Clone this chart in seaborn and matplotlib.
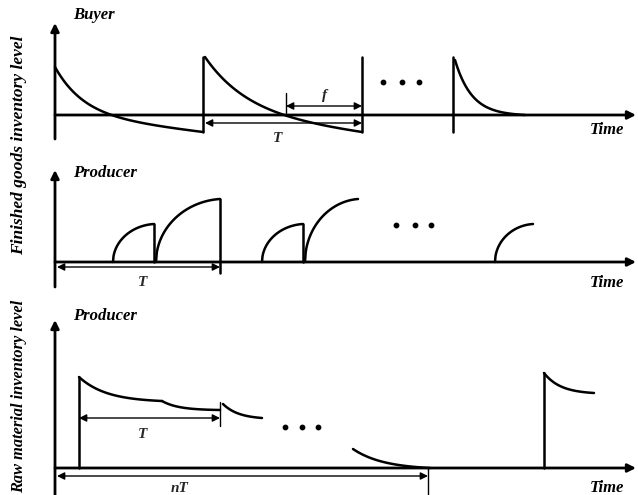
import numpy as np
import pandas as pd
import matplotlib
matplotlib.use("Agg")
import matplotlib.pyplot as plt
import seaborn as sns

sns.set_theme(style="white")
plt.rcParams['font.family'] = ['Liberation Serif', 'DejaVu Serif']

# ---------------- schematic key values (canvas units) ----------------
# Buyer panel
buyer_base = 115
buyer_x0 = [55, 205, 455]          # replenishment instants
buyer_x1 = [203, 362, 525]         # end of each cycle curve
buyer_peak = [67, 57, 60]          # level right after replenishment
buyer_low = [132, 132, 115]        # level at end (backorder)
buyer_repl_x = [203, 362, 453]     # vertical replenishment lines
buyer_repl_top = 57
buyer_repl_bottom = 132

# Producer finished goods panel
prod_base = 262
prod_x0 = [113, 156, 262, 305, 495]
prod_x1 = [154, 220, 303, 358, 533]
prod_top = [224, 199, 224, 199, 224]
prod_drop_x = [154, 220, 303]
prod_drop_top = [224, 199, 224]
prod_drop_bottom = [262, 273, 262]

# Raw material panel
raw_base = 468
raw_x0 = [79, 162, 223, 353, 544]
raw_y0 = [377, 401, 404, 449, 373]
raw_x1 = [162, 220, 262, 430, 594]
raw_y1 = [401, 410, 418, 468, 393]
raw_repl_x = [79, 544]
raw_repl_top = [377, 373]

def decay(x0, x1, y0, y1, k):
    t = np.linspace(0, 1, 80)
    f = (np.exp(-k * t) - np.exp(-k)) / (1 - np.exp(-k))
    return x0 + (x1 - x0) * t, y1 + (y0 - y1) * f

rows = []
seg = 0
# buyer curves: exponential decay + linear backorder
for x0, x1, pk, lo, kk in zip(buyer_x0, buyer_x1, buyer_peak, buyer_low, [0.035, 0.023, 0.06]):
    t = np.linspace(0, x1 - x0, 120)
    b = (lo - buyer_base + (buyer_base - pk) * np.exp(-kk * (x1 - x0))) / (x1 - x0)
    y = buyer_base - (buyer_base - pk) * np.exp(-kk * t) + b * t
    for xx, yy in zip(x0 + t, y):
        rows.append((seg, xx, yy))
    seg += 1
# producer arcs
for x0, x1, tp in zip(prod_x0, prod_x1, prod_top):
    s = np.linspace(0, 0.93, 80)
    g = np.sqrt(1 - (1 - s) ** 2)
    g = g / g[-1]
    for xx, yy in zip(x0 + (x1 - x0) * s / 0.93, prod_base - (prod_base - tp) * g):
        rows.append((seg, xx, yy))
    seg += 1
# raw material curves
for x0, y0, x1, y1, kk in zip(raw_x0, raw_y0, raw_x1, raw_y1, [3.0, 3.5, 2.5, 2.5, 3.0]):
    xs, ys = decay(x0, x1, y0, y1, kk)
    for xx, yy in zip(xs, ys):
        rows.append((seg, xx, yy))
    seg += 1
curves = pd.DataFrame(rows, columns=["seg", "x", "y"])

# vertical lines
vrows = []
vseg = 0
for x in buyer_repl_x:
    vrows += [(vseg, x, buyer_repl_top), (vseg, x, buyer_repl_bottom)]; vseg += 1
for x, tp, bt in zip(prod_drop_x, prod_drop_top, prod_drop_bottom):
    vrows += [(vseg, x, tp), (vseg, x, bt)]; vseg += 1
for x, tp in zip(raw_repl_x, raw_repl_top):
    vrows += [(vseg, x, tp), (vseg, x, raw_base)]; vseg += 1
verts = pd.DataFrame(vrows, columns=["seg", "x", "y"])

thin = pd.DataFrame([(0, 286, 93), (0, 286, 113), (1, 220, 402), (1, 220, 426),
                     (2, 428, 468), (2, 428, 495)], columns=["seg", "x", "y"])

fig = plt.figure(figsize=(6.38, 4.95), dpi=100)
ax = fig.add_axes([0, 0, 1, 1])
ax.set_xlim(0, 638)
ax.set_ylim(495, 0)
ax.axis("off")

sns.lineplot(data=curves, x="x", y="y", units="seg", estimator=None, sort=False,
             color="black", lw=1.8, ax=ax, legend=False)
sns.lineplot(data=verts, x="x", y="y", units="seg", estimator=None, sort=False,
             color="black", lw=1.8, ax=ax, legend=False)
sns.lineplot(data=thin, x="x", y="y", units="seg", estimator=None, sort=False,
             color="black", lw=1.0, ax=ax, legend=False)

# axes with arrows
axis_color = "black"
for base, top, bottom in [(buyer_base, 23, 139), (prod_base, 170, 287), (raw_base, 320, 495)]:
    ax.annotate("", xy=(55, top), xytext=(55, bottom),
                arrowprops=dict(arrowstyle="-|>", color=axis_color, lw=2.0, mutation_scale=12, shrinkA=0, shrinkB=0))
    ax.annotate("", xy=(636, base), xytext=(55, base),
                arrowprops=dict(arrowstyle="-|>", color=axis_color, lw=2.0, mutation_scale=12, shrinkA=0, shrinkB=0))

def dim(x0, x1, y):
    ax.annotate("", xy=(x1, y), xytext=(x0, y),
                arrowprops=dict(arrowstyle="<|-|>", color="black", lw=1.0, mutation_scale=11, shrinkA=0, shrinkB=0))

dim(205, 362, 123)
dim(286, 362, 106)
dim(57, 220, 267)
dim(79, 220, 418)
dim(57, 428, 476)

# dots
for y, xs in [(82, [383, 402, 419]), (225, [396, 415, 431]), (427, [285, 302, 318])]:
    ax.scatter(xs, [y] * 3, s=10, color="black", zorder=5)

tf = dict(fontsize=12, fontweight="bold", fontstyle="italic", color="black")
ax.text(73, 15, "Buyer", ha="left", va="center", **tf)
ax.text(73, 173, "Producer", ha="left", va="center", **tf)
ax.text(73, 316, "Producer", ha="left", va="center", **tf)
for y in [130, 283, 488]:
    ax.text(624, y, "Time", ha="right", va="center", **tf)
ax.text(278, 138, "T", ha="center", va="center", fontsize=11, fontweight="bold", fontstyle="italic")
ax.text(325, 96, "f", ha="center", va="center", fontsize=11, fontweight="bold", fontstyle="italic")
ax.text(143, 282, "T", ha="center", va="center", fontsize=11, fontweight="bold", fontstyle="italic")
ax.text(143, 434, "T", ha="center", va="center", fontsize=11, fontweight="bold", fontstyle="italic")
ax.text(180, 488, "nT", ha="center", va="center", fontsize=11, fontweight="bold", fontstyle="italic")
ax.text(19, 145, "Finished goods inventory level", rotation=90, ha="center", va="center", **dict(tf, fontsize=12.5))
ax.text(19, 396, "Raw material inventory level", rotation=90, ha="center", va="center", **dict(tf, fontsize=11.8))

fig.savefig("out.png", dpi=100)
